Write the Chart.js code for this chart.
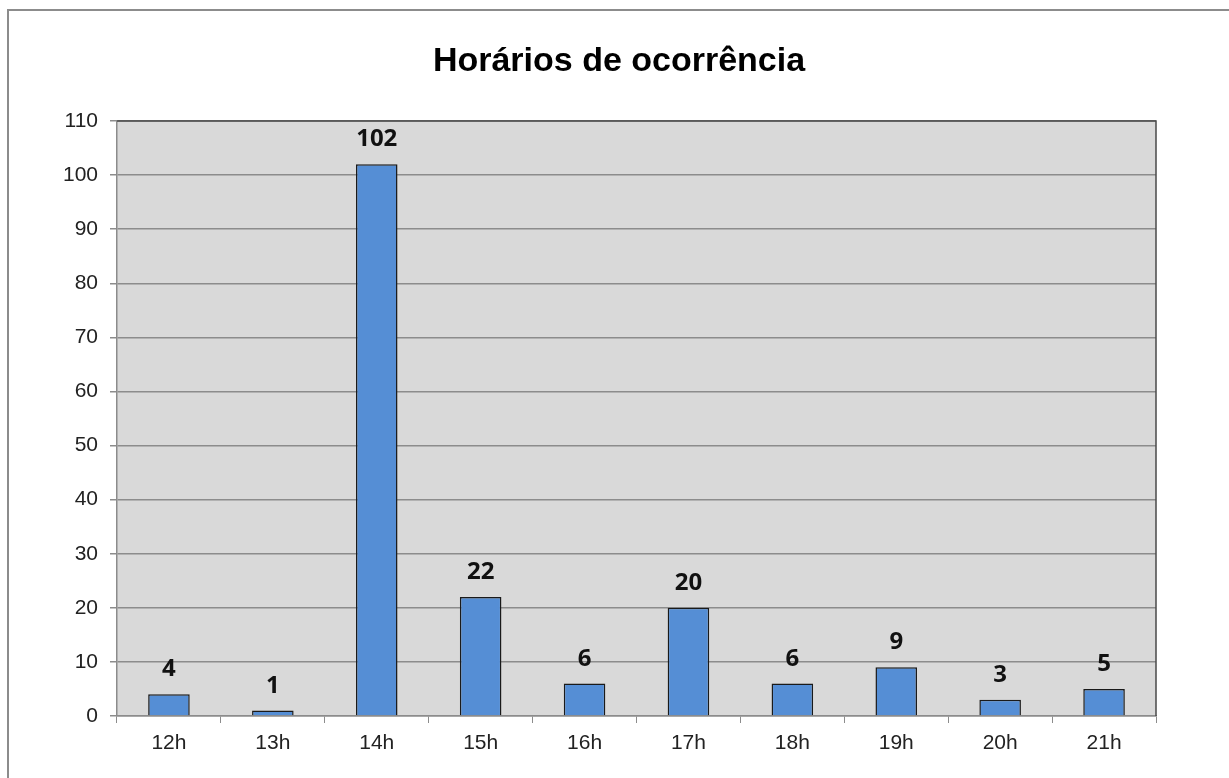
<!DOCTYPE html>
<html>
<head>
<meta charset="utf-8">
<script src="https://cdn.jsdelivr.net/npm/chart.js@4.4.1/dist/chart.umd.min.js"></script>
<style>
    html, body { margin: 0; padding: 0; background: #fff; }
    canvas { display: block; }
</style>
</head>
<body>
<canvas id="chart" width="1229" height="778"></canvas>
<script>
// data
const chartTitle = "Horários de ocorrência";
const hours = ["12h", "13h", "14h", "15h", "16h", "17h", "18h", "19h", "20h", "21h"];
const occurrences = [4, 1, 102, 22, 6, 20, 6, 9, 3, 5];
const yTicks = [0, 10, 20, 30, 40, 50, 60, 70, 80, 90, 100, 110];

// background, outer frame, title, grey plot area and its top/right border
const frame = {
    id: "frame",
    beforeDraw(chart) {
        const ctx = chart.ctx;
        const a = chart.chartArea;
        ctx.save();
        ctx.fillStyle = "#ffffff";
        ctx.fillRect(0, 0, chart.width, chart.height);
        ctx.strokeStyle = "#8c8c8c";
        ctx.lineWidth = 2;
        ctx.beginPath();
        ctx.moveTo(8, chart.height);
        ctx.lineTo(8, 10);
        ctx.lineTo(chart.width, 10);
        ctx.stroke();
        ctx.fillStyle = "#d9d9d9";
        ctx.fillRect(a.left, a.top, a.right - a.left, a.bottom - a.top);

        // title, centred on the frame rather than the plot
        ctx.font = "bold 34px 'Liberation Sans', Arial, sans-serif";
        ctx.fillStyle = "#000000";
        ctx.textAlign = "center";
        ctx.textBaseline = "middle";
        ctx.fillText(chartTitle, 619, 62);
        ctx.restore();
    },
    beforeDatasetsDraw(chart) {
        const ctx = chart.ctx;
        const a = chart.chartArea;
        ctx.save();
        ctx.strokeStyle = "#4a4a4a";
        ctx.lineWidth = 1.5;
        ctx.beginPath();
        ctx.moveTo(a.left, a.top);
        ctx.lineTo(a.right, a.top);
        ctx.lineTo(a.right, a.bottom);
        ctx.stroke();
        ctx.restore();
    }
};

// value labels above each bar
const valueLabels = {
    id: "valueLabels",
    afterDatasetsDraw(chart) {
        const ctx = chart.ctx;
        const meta = chart.getDatasetMeta(0);
        ctx.save();
        ctx.font = "bold 24px 'Noto Sans', sans-serif";
        ctx.fillStyle = "#111111";
        ctx.textAlign = "center";
        ctx.textBaseline = "alphabetic";
        meta.data.forEach((bar, i) => {
            ctx.fillText(String(occurrences[i]), bar.x, bar.y - 18);
        });
        ctx.restore();
    }
};

new Chart(document.getElementById("chart"), {
    type: "bar",
    data: {
        labels: hours,
        datasets: [{
            data: occurrences,
            backgroundColor: "#558ed5",
            borderColor: "#1a1a1a",
            borderWidth: 1.5,
            barPercentage: 0.4,
            categoryPercentage: 1.0,
        }],
    },
    options: {
        responsive: false,
        animation: false,
        layout: { padding: { left: 0, right: 73, bottom: 0, top: 121 } },
        plugins: {
            legend: { display: false },
            tooltip: { enabled: false },
            title: { display: false },
        },
        scales: {
            x: {
                grid: {
                    offset: true,
                    drawOnChartArea: false,
                    color: "#8c8c8c",
                    tickLength: 7,
                },
                border: { color: "#8c8c8c", width: 1.5 },
                ticks: {
                    color: "#222222",
                    padding: 8,
                    font: { family: "'Liberation Sans', Arial, sans-serif", size: 21 },
                },
                afterFit(scale) { scale.height = 62; },
            },
            y: {
                min: 0,
                max: 110,
                afterBuildTicks(scale) {
                    scale.ticks = yTicks.map((v) => ({ value: v }));
                },
                grid: { color: "#8c8c8c", lineWidth: 1.5, tickLength: 7 },
                border: { color: "#8c8c8c", width: 1.5 },
                ticks: {
                    color: "#222222",
                    padding: 12,
                    font: { family: "'Liberation Sans', Arial, sans-serif", size: 21 },
                },
                afterFit(scale) { scale.width = 117; },
            },
        },
    },
    plugins: [frame, valueLabels],
});
</script>
</body>
</html>
